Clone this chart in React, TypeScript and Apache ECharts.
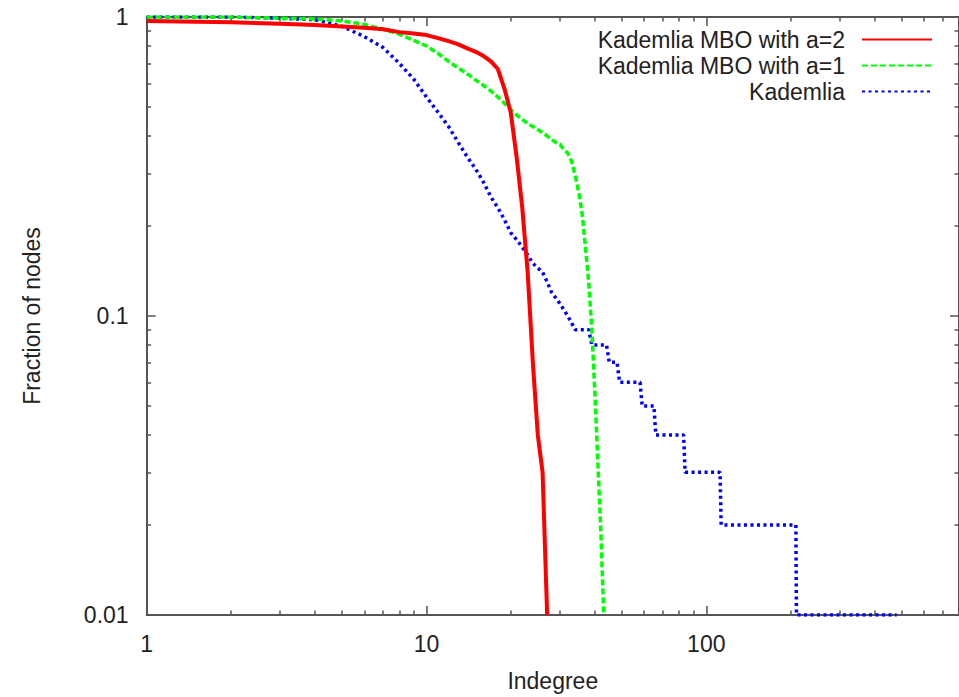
import React, { useEffect, useRef } from "react";
import * as echarts from "echarts";

// Indegree (x) and fraction of nodes with at least that indegree (y)
const redX = [1, 2, 3, 4, 5, 6, 7, 8, 9, 10, 11, 12, 13, 14, 15, 16, 17, 18, 19, 20, 21, 22, 23, 24, 25, 26, 27];
const redY = [0.97, 0.96, 0.95, 0.94, 0.93, 0.92, 0.91, 0.89, 0.88, 0.87, 0.85, 0.83, 0.81, 0.785, 0.765, 0.74, 0.71, 0.67, 0.575, 0.48, 0.34, 0.23, 0.14, 0.07, 0.04, 0.03, 0.01];

const greenX = [1, 2, 3, 4, 5, 6, 7, 8, 9, 10, 11, 12, 13, 14, 15, 16, 17, 18, 19, 20, 21, 22, 23, 24, 25, 26, 27, 28, 29, 30, 31, 32, 33, 34, 35, 36, 37, 38, 39, 40, 41, 42, 43];
const greenY = [1.0, 1.0, 0.99, 0.985, 0.97, 0.945, 0.91, 0.875, 0.835, 0.8, 0.755, 0.71, 0.675, 0.645, 0.615, 0.59, 0.565, 0.54, 0.515, 0.49, 0.47, 0.455, 0.44, 0.43, 0.42, 0.41, 0.4, 0.39, 0.38, 0.375, 0.36, 0.35, 0.33, 0.295, 0.26, 0.22, 0.17, 0.13, 0.09, 0.055, 0.032, 0.019, 0.01];

const blueX = [1, 2, 3, 4, 5, 6, 7, 8, 9, 10, 11, 12, 13, 14, 15, 16, 17, 18, 19, 20, 21, 22, 23, 24, 26, 27, 28, 30, 32, 34, 38, 39, 44, 45, 48, 49, 58, 59, 65, 66, 83, 84, 112, 113, 209, 210, 479];
const blueY = [1.0, 1.0, 0.99, 0.98, 0.93, 0.86, 0.79, 0.7, 0.62, 0.54, 0.48, 0.43, 0.38, 0.34, 0.31, 0.28, 0.25, 0.23, 0.21, 0.19, 0.18, 0.17, 0.16, 0.15, 0.14, 0.13, 0.12, 0.11, 0.1, 0.09, 0.09, 0.08, 0.08, 0.07, 0.07, 0.06, 0.06, 0.05, 0.05, 0.04, 0.04, 0.03, 0.03, 0.02, 0.02, 0.01, 0.01];

const seriesNames = ["Kademlia MBO with a=2", "Kademlia MBO with a=1", "Kademlia"];
const seriesColors = ["#ff0000", "#00ff00", "#0000ff"];

const xMajorTicks = [1, 10, 100];
const xMinorTicks = [2, 3, 4, 5, 6, 7, 8, 9, 20, 30, 40, 50, 60, 70, 80, 90, 200, 300, 400, 500, 600, 700];
const yMajorTicks = [0.01, 0.1, 1];
const yMinorTicks = [0.02, 0.03, 0.04, 0.05, 0.06, 0.07, 0.08, 0.09, 0.2, 0.3, 0.4, 0.5, 0.6, 0.7, 0.8, 0.9];

const FONT = "Liberation Sans";
const FONT_SIZE = 23;
const AXIS_COLOR = "#555555";
const TEXT_COLOR = "#222222";

export default function App() {
  const ref = useRef<HTMLDivElement>(null);

  useEffect(() => {
    if (!ref.current) return;
    const chart = echarts.init(ref.current, undefined, { renderer: "svg" });

    const xBase = (position: string, ticks: number[], len: number, main: boolean) => ({
      type: "log",
      logBase: 10,
      min: 1,
      max: 800,
      position,
      axisLine: { show: main, onZero: false, lineStyle: { color: AXIS_COLOR, width: 2 } },
      axisTick: { show: true, inside: true, length: len, customValues: ticks, lineStyle: { color: AXIS_COLOR, width: 1.5 } },
      axisLabel: { show: false },
      splitLine: { show: false },
      minorTick: { show: false },
      minorSplitLine: { show: false },
    });
    const yBase = (position: string, ticks: number[], len: number, main: boolean) => ({
      type: "log",
      logBase: 10,
      min: 0.01,
      max: 1,
      position,
      axisLine: { show: main, onZero: false, lineStyle: { color: AXIS_COLOR, width: 2 } },
      axisTick: { show: true, inside: true, length: len, customValues: ticks, lineStyle: { color: AXIS_COLOR, width: 1.5 } },
      axisLabel: { show: false },
      splitLine: { show: false },
      minorTick: { show: false },
      minorSplitLine: { show: false },
    });

    const xMain: any = xBase("bottom", xMajorTicks, 9, true);
    xMain.axisLabel = {
      show: true,
      customValues: xMajorTicks,
      formatter: (v: number) => String(Math.round(v)),
      fontFamily: FONT,
      fontSize: FONT_SIZE,
      color: TEXT_COLOR,
      margin: 17,
    };
    xMain.name = "Indegree";
    xMain.nameLocation = "middle";
    xMain.nameGap = 54;
    xMain.nameTextStyle = { fontFamily: FONT, fontSize: FONT_SIZE, color: TEXT_COLOR };

    const yMain: any = yBase("left", yMajorTicks, 9, true);
    yMain.axisLabel = {
      show: true,
      customValues: yMajorTicks,
      formatter: (v: number) => String(Number(v.toPrecision(2))),
      fontFamily: FONT,
      fontSize: FONT_SIZE,
      color: TEXT_COLOR,
      margin: 18,
    };
    yMain.name = "Fraction of nodes";
    yMain.nameLocation = "middle";
    yMain.nameGap = 103;
    yMain.nameTextStyle = { fontFamily: FONT, fontSize: FONT_SIZE, color: TEXT_COLOR };

    const mk = (xs: number[], ys: number[]) => xs.map((x, i) => [x, ys[i]]);
    const lineStyles = [
      { color: seriesColors[0], width: 4 },
      { color: seriesColors[1], width: 3.5, type: [6, 3] },
      { color: seriesColors[2], width: 3.5, type: [3, 3.5] },
    ];
    const datas = [mk(redX, redY), mk(greenX, greenY), mk(blueX, blueY)];

    chart.setOption({
      animation: false,
      backgroundColor: "#ffffff",
      textStyle: { fontFamily: FONT },
      grid: { left: 146.6, top: 17, width: 817.5, height: 604.7, containLabel: false },
      xAxis: [
        xMain,
        xBase("bottom", xMinorTicks, 4.5, false),
        xBase("top", xMajorTicks, 9, true),
        xBase("top", xMinorTicks, 4.5, false),
      ],
      yAxis: [
        yMain,
        yBase("left", yMinorTicks, 4.5, false),
        yBase("right", yMajorTicks, 9, true),
        yBase("right", yMinorTicks, 4.5, false),
      ],
      legend: seriesNames.map((n, i) => ({
        data: [n],
        right: 26,
        top: 28 + i * 26,
        orient: "horizontal",
        align: "right",
        itemWidth: 70,
        itemHeight: 12,
        padding: 0,
        selectedMode: false,
        itemStyle: { color: "rgba(0,0,0,0)", borderWidth: 0, opacity: 0 },
        textStyle: { fontFamily: FONT, fontSize: FONT_SIZE, color: TEXT_COLOR, padding: [0, 12, 0, 0] },
      })),
      series: seriesNames.map((n, i) => ({
        type: "line",
        name: n,
        data: datas[i],
        xAxisIndex: 0,
        yAxisIndex: 0,
        symbol: "none",
        showSymbol: false,
        lineStyle: lineStyles[i],
        itemStyle: { color: seriesColors[i] },
        z: 3 - i,
      })),
    });

    return () => chart.dispose();
  }, []);

  return (
    <div
      ref={ref}
      style={{ position: "fixed", left: 0, top: 0, width: 959, height: 697, background: "#fff" }}
    />
  );
}
